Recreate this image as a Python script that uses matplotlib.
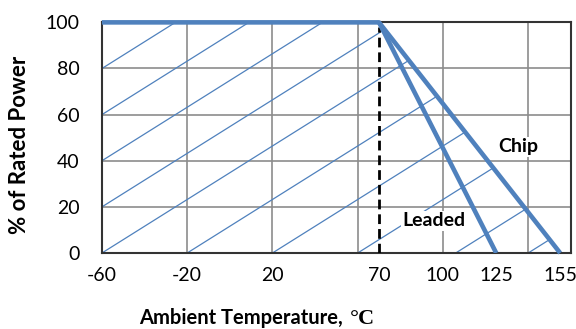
import matplotlib
matplotlib.use("Agg")
import matplotlib.pyplot as plt
from matplotlib.patches import Polygon

# derating curves (% of rated power vs ambient temperature)
chip_temp = [-60, 70, 155]
chip_power = [100, 100, 0]
leaded_temp = [70, 125]
leaded_power = [100, 0]
knee_temp = 70

# axis setup
grid_x = [-60, -20, 20, 60, 100, 140]
tick_x = [-60, -20, 20, 70, 100, 125, 155]
tick_y = [0, 20, 40, 60, 80, 100]

# diagonal hatch lines under the chip curve (start points, common slope)
hatch_x0 = [-60, -60, -60, -60, -60, -20, 20, 60, 106, 140]
hatch_y0 = [0, 20, 40, 60, 80, 0, 0, 0, 0, 0]
hatch_slope = 0.58

BLUE = "#4F81BD"

plt.rcParams["font.family"] = ["Lato", "DejaVu Sans"]
plt.rcParams["axes.unicode_minus"] = False

fig = plt.figure(figsize=(5.76, 3.29), dpi=100)
ax = fig.add_axes([0.177, 0.231, 0.814, 0.701])
ax.set_xlim(-60, 160)
ax.set_ylim(0, 100)

for gx in grid_x[1:]:
    ax.axvline(gx, color="#8c8c8c", lw=1.2, zorder=1)
for gy in tick_y[1:-1]:
    ax.axhline(gy, color="#8c8c8c", lw=1.2, zorder=1)

# hatch, clipped to the area under the chip curve
clip = Polygon(list(zip(chip_temp, chip_power)) + [(chip_temp[0], 0)],
               closed=True, transform=ax.transData, facecolor="none",
               edgecolor="none")
ax.add_patch(clip)
for x0, y0 in zip(hatch_x0, hatch_y0):
    x1 = 160
    y1 = y0 + hatch_slope * (x1 - x0)
    ln, = ax.plot([x0, x1], [y0, y1], color=BLUE, lw=0.9, zorder=2)
    ln.set_clip_path(clip)

ax.plot([knee_temp, knee_temp], [0, 98], color="black", lw=2,
        dashes=(3.5, 1.8), zorder=3)

ax.plot(chip_temp, chip_power, color=BLUE, lw=3.3, zorder=4,
        solid_capstyle="butt", clip_on=False)
ax.plot(leaded_temp, leaded_power, color=BLUE, lw=3.3, zorder=4,
        solid_capstyle="butt")

ax.text(135.4, 46, "Chip", fontsize=14, fontweight="bold", ha="center",
        va="center", zorder=5,
        bbox=dict(facecolor="white", edgecolor="none", pad=1))
ax.text(95.6, 14, "Leaded", fontsize=14, fontweight="bold", ha="center",
        va="center", zorder=5,
        bbox=dict(facecolor="white", edgecolor="none", pad=1))

ax.set_xticks(tick_x)
ax.set_xticklabels([str(t) for t in tick_x])
ax.set_yticks(tick_y)
ax.tick_params(axis="both", length=0, labelsize=14)
ax.tick_params(axis="x", pad=10)
ax.tick_params(axis="y", pad=16)

for side in ["top", "right", "bottom", "left"]:
    ax.spines[side].set_color("#333333")
    ax.spines[side].set_linewidth(1.5)

fig.text(20 / 576, 0.56, "% of Rated Power", fontsize=16,
         fontweight="bold", rotation=90, ha="center", va="center")
fig.text(0.596, 0.014, "Ambient Temperature,", fontsize=14.5,
         fontweight="bold", ha="right", va="baseline")
fig.text(0.607, 0.014, "°C", fontsize=16, fontweight="bold",
         family="Liberation Serif", ha="left", va="baseline")

fig.savefig("out.png", dpi=100)
